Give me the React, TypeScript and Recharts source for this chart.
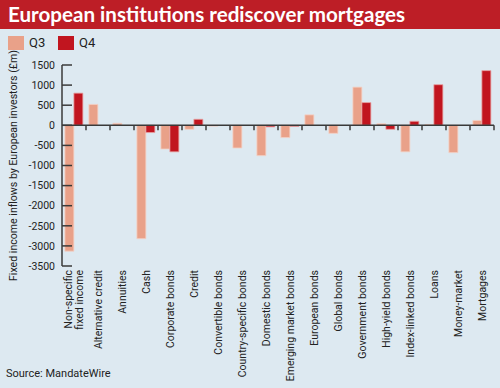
import React from "react";
import { BarChart, Bar, XAxis, YAxis, ReferenceLine } from "recharts";

const categories = [
    "Non-specific\nfixed income",
    "Alternative credit",
    "Annuities",
    "Cash",
    "Corporate bonds",
    "Credit",
    "Convertible bonds",
    "Country-specific bonds",
    "Domestic bonds",
    "Emerging market bonds",
    "European bonds",
    "Global bonds",
    "Government bonds",
    "High-yield bonds",
    "Index-linked bonds",
    "Loans",
    "Money-market",
    "Mortgages",
];
const q3 = [-3130, 520, 50, -2820, -590, -100, -20, -565, -755, -306, 260, -200, 950, 40, -660, 20, -680, 120];
const q4 = [800, 0, 0, -180, -660, 150, 0, 0, -40, -30, 0, 0, 565, -100, 100, 1010, 0, 1360];
const yTicks = [1500, 1000, 500, 0, -500, -1000, -1500, -2000, -2500, -3000, -3500];

const data = categories.map((name, i) => ({ name, q3: q3[i], q4: q4[i] }));

const BG = "#dde9f1";
const RED = "#bd1e26";
const Q3_COLOR = "#e9a189";
const Q4_COLOR = "#c1151f";
const AXIS = "#3a3a3a";
const FONT = "Roboto, 'Liberation Sans', sans-serif";

function CategoryTick({ x, y, payload }: any) {
    const lines = String(payload.value).split("\n");
    const step = 11;
    const first = -((lines.length - 1) * step) / 2;
    return (
        <g transform={`translate(${x},${y})`}>
            {lines.map((line, i) => (
                <text
                    key={i}
                    transform={`rotate(-90) translate(0, ${first + i * step})`}
                    textAnchor="end"
                    dy="0.35em"
                    fill="#222"
                    fontSize={10.5}
                    fontFamily={FONT}
                >
                    {line}
                </text>
            ))}
        </g>
    );
}

// zero line with small tick marks at every category boundary
function ZeroLine(props: any) {
    const { x1, x2, y1 } = props;
    if (x1 == null || x2 == null || y1 == null) return null;
    const w = (x2 - x1) / categories.length;
    return (
        <g>
            <line x1={x1} x2={x2} y1={y1} y2={y1} stroke={AXIS} strokeWidth={1.5} />
            {categories.map((_, i) => (
                <line
                    key={i}
                    x1={x1 + (i + 1) * w}
                    x2={x1 + (i + 1) * w}
                    y1={y1}
                    y2={y1 + 5}
                    stroke={AXIS}
                    strokeWidth={1.5}
                />
            ))}
        </g>
    );
}

export default function App() {
    return (
        <div
            style={{
                position: "absolute",
                left: 0,
                top: 0,
                width: 500,
                height: 388,
                background: BG,
                fontFamily: FONT,
                overflow: "hidden",
            }}
        >
            <div
                style={{
                    position: "absolute",
                    left: 0,
                    top: 0,
                    width: 500,
                    height: 29,
                    background: RED,
                    color: "white",
                    fontWeight: 700,
                    fontSize: 20.6,
                    lineHeight: "29px",
                    paddingLeft: 8,
                    boxSizing: "border-box",
                    fontFamily: "Lato, Roboto, sans-serif",
                }}
            >
                European institutions rediscover mortgages
            </div>

            <div style={{ position: "absolute", left: 8, top: 35, display: "flex", alignItems: "center", fontSize: 13, color: "#222" }}>
                <span style={{ width: 16, height: 14, background: Q3_COLOR, display: "inline-block" }} />
                <span style={{ marginLeft: 5, width: 29 }}>Q3</span>
                <span style={{ width: 16, height: 14, background: Q4_COLOR, display: "inline-block" }} />
                <span style={{ marginLeft: 5 }}>Q4</span>
            </div>

            <div style={{ position: "absolute", left: 0, top: 0 }}>
                <BarChart
                    width={500}
                    height={388}
                    data={data}
                    margin={{ top: 65, right: 6, left: 0, bottom: 0 }}
                    barCategoryGap="12%"
                    barGap={0}
                >
                    <XAxis
                        dataKey="name"
                        interval={0}
                        axisLine={false}
                        tickLine={false}
                        tickSize={0}
                        tickMargin={4}
                        height={122}
                        tick={<CategoryTick />}
                    />
                    <YAxis
                        domain={[-3500, 1500]}
                        ticks={yTicks}
                        interval={0}
                        width={62}
                        axisLine={{ stroke: AXIS, strokeWidth: 1.5 }}
                        tickLine={{ stroke: AXIS, strokeWidth: 1.5 }}
                        tickSize={-10}
                        tickMargin={17}
                        tick={{ fill: "#222", fontSize: 10.5, fontFamily: FONT }}
                        label={{
                            value: "Fixed income inflows by European investors (£m)",
                            angle: -90,
                            position: "insideLeft",
                            offset: 13,
                            style: { textAnchor: "middle", fill: "#222", fontSize: 10.6, fontFamily: FONT },
                        }}
                    />
                    <Bar dataKey="q3" fill={Q3_COLOR} stroke="#f4d2c6" strokeWidth={0.8} isAnimationActive={false} />
                    <Bar dataKey="q4" fill={Q4_COLOR} stroke="#e7a3a3" strokeWidth={0.8} isAnimationActive={false} />
                    <ReferenceLine y={0} shape={<ZeroLine />} />
                </BarChart>
            </div>

            <div style={{ position: "absolute", left: 6, top: 367, fontSize: 11, color: "#222" }}>
                Source: MandateWire
            </div>
        </div>
    );
}
